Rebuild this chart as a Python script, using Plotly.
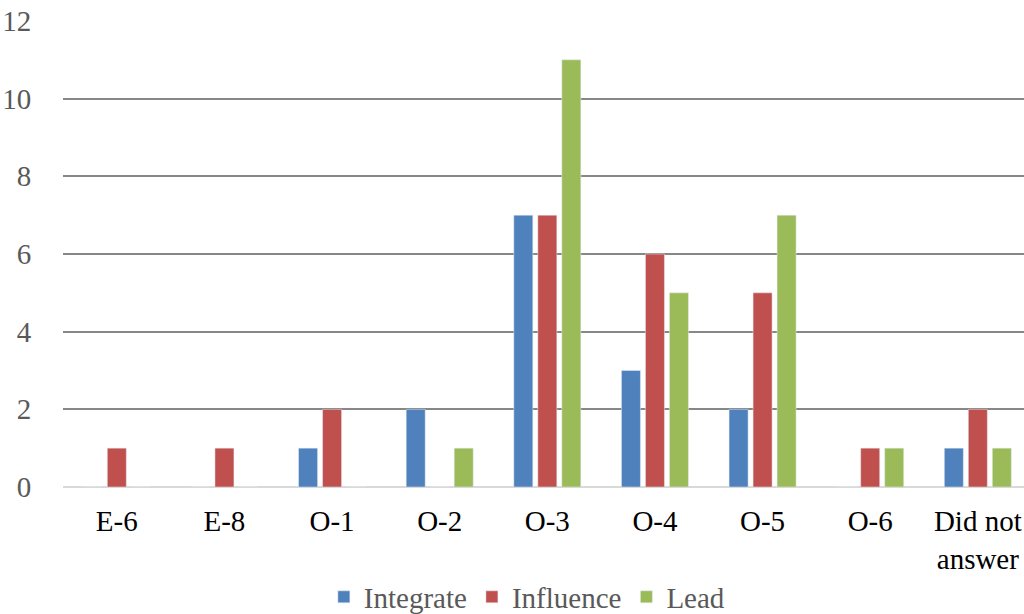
import plotly.graph_objects as go

categories = ["E-6", "E-8", "O-1", "O-2", "O-3", "O-4", "O-5", "O-6", "Did not<br>answer"]
integrate = [0, 0, 1, 2, 7, 3, 2, 0, 1]
influence = [1, 1, 2, 0, 7, 6, 5, 1, 2]
lead = [0, 0, 0, 1, 11, 5, 7, 1, 1]
y_ticks = [0, 2, 4, 6, 8, 10, 12]

FONT = "Liberation Serif"

fig = go.Figure()
fig.add_trace(go.Bar(name="Integrate", x=categories, y=integrate, marker_color="#4F81BD"))
fig.add_trace(go.Bar(name="Influence", x=categories, y=influence, marker_color="#C0504D"))
fig.add_trace(go.Bar(name="Lead", x=categories, y=lead, marker_color="#9BBB59"))

fig.update_layout(
    width=1024, height=614,
    margin=dict(l=63, r=0, t=21, b=127, pad=0, autoexpand=False),
    paper_bgcolor="white", plot_bgcolor="white",
    barmode="group", bargap=0.331, bargroupgap=0.208,
    font=dict(family=FONT, size=29, color="#595959"),
    showlegend=True,
    legend=dict(orientation="h", xref="container", yref="paper",
                x=0.515, y=-0.236, xanchor="center", yanchor="middle",
                font=dict(family=FONT, size=29, color="#595959"),
                itemwidth=30, tracegroupgap=0),
)
fig.update_xaxes(
    type="category", range=[-0.5, 8.429], automargin=False,
    showgrid=False, showline=False, zeroline=False,
    tickfont=dict(family=FONT, size=29, color="black"),
    ticks="outside", ticklen=8, tickcolor="rgba(0,0,0,0)",
)
fig.update_yaxes(
    range=[0, 12], tickvals=y_ticks, automargin=False,
    showgrid=True, gridcolor="#878787", gridwidth=1.6,
    zeroline=True, zerolinecolor="#D9D9D9", zerolinewidth=2,
    showline=False,
    tickfont=dict(family=FONT, size=29, color="#595959"),
    ticks="outside", ticklen=25, tickcolor="rgba(0,0,0,0)",
)

fig.write_html("out.html")
